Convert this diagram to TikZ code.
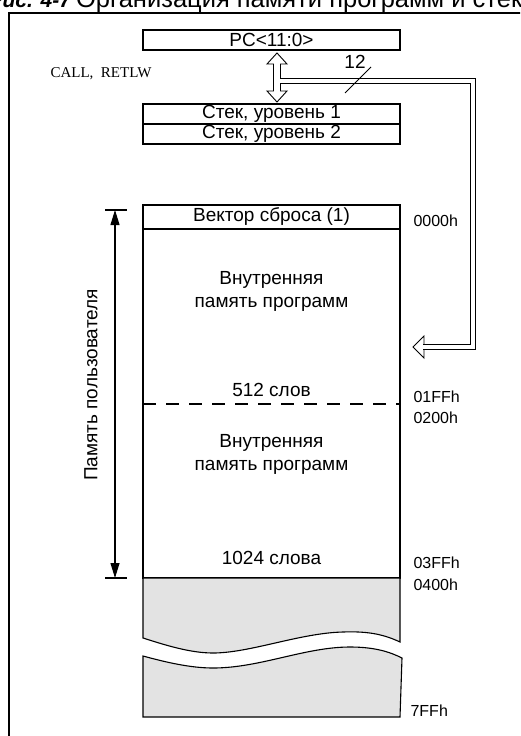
\documentclass[tikz,border=0pt]{standalone}
\usepackage{fontspec}
\setmainfont{Liberation Sans}
\newfontfamily\callfont{Liberation Serif}
\usetikzlibrary{arrows.meta}
\usetikzlibrary{calc}

\begin{document}
\begin{tikzpicture}[x=1pt, y=-1pt, line width=1.1pt,
  membox/.style={draw, minimum width=257pt, inner sep=0pt, font=\fontsize{19}{21}\selectfont},
  memtext/.style={align=center, font=\fontsize{19}{23}\selectfont},
  addr/.style={anchor=west, inner sep=0pt, font=\fontsize{16}{18}\selectfont},
  hollow/.style={draw, fill=white, line width=0.9pt},
  spantip/.tip={Triangle[length=15pt, width=9pt]}]
\useasboundingbox (0,0) rectangle (520,736);
\clip (0,0) rectangle (520,736);

% title and frame
\node[anchor=base west, inner sep=0pt] (title) at (-12,8)
  {{\fontsize{21}{24}\selectfont\bfseries\itshape Рис. 4-7}\hspace{5pt}{\fontsize{25.5}{28}\selectfont Организация памяти программ и стека}};
\draw[line width=1.3pt] (9,745) -- (9,13) -- (530,13);

% program counter and stack
\node[membox, minimum height=20pt] (pc) at (271.5,40) {PC<11:0>};
\node[membox, minimum height=20pt] (stack1) at (271.5,114) {Стек, уровень 1};
\node[membox, minimum height=20pt] (stack2) at (271.5,134) {Стек, уровень 2};
\node[anchor=base west, inner sep=0pt, font=\callfont\fontsize{15}{17}\selectfont] (call) at (50,77)
  {CALL,\ \ RETLW};

% double arrow pc <-> stack
\draw[hollow] (277,53) -- (287,64) -- (280.5,64) -- (280.5,91) -- (287,91) -- (277,102)
  -- (267,91) -- (273.5,91) -- (273.5,64) -- (267,64) -- cycle;
\coordinate (busstart) at (280,81);
\coordinate (bushead) at (413,347);

% 12-bit bus to program memory
\draw[hollow] (bushead) -- ++(11,-11) -- ++(0,22) -- cycle;
\draw[double, double distance=3.6pt, line width=0.9pt] (busstart) -- (473,81) -- (473,347) -- ($(bushead)+(10,0)$);
\draw[line width=0.9pt] (345,93) -- (371,67);
\node[font=\fontsize{19}{21}\selectfont] (width) at (355,62) {12};

% program memory
\node[membox, minimum height=24pt] (reset) at (271.5,217) {Вектор сброса (1)};
\node[membox, minimum height=349pt] (prog) at (271.5,403.5) {};
\draw[dash pattern=on 13pt off 10pt] (143,404) -- (400,404);
\node[memtext] (page0) at (271.5,291) {Внутренняя\\память программ};
\node[memtext] (words0) at (271.5,390) {512 слов};
\node[memtext] (page1) at (271.5,454) {Внутренняя\\память программ};
\node[memtext] (words1) at (271.5,558) {1024 слова};

% unimplemented area
\draw[fill=gray!22] (143,578) -- (400,578) -- (400,642)
  .. controls (385,635) and (370,631) .. (343,632)
  .. controls (300,633) and (250,653) .. (213,653)
  .. controls (190,653) and (165,645) .. (143,638) -- cycle;
\draw[fill=gray!22] (143,717) -- (143,656)
  .. controls (165,662) and (190,668) .. (213,668)
  .. controls (260,668) and (305,647) .. (350,647)
  .. controls (375,647) and (390,652) .. (402,658) -- (400,717) -- cycle;

% addresses
\node[addr] (a0000) at (413,221) {0000h};
\node[addr] (a01ff) at (413,397) {01FFh};
\node[addr] (a0200) at (413,418) {0200h};
\node[addr] (a03ff) at (413,563) {03FFh};
\node[addr] (a0400) at (413,585) {0400h};
\node[addr] (a7ff) at (410,711) {7FFh};

% user memory span
\coordinate (umtop) at (115,210);
\coordinate (umbot) at (115,578);
\draw (105,210) -- (127,210);
\draw (105,578) -- (127,578);
\draw[{spantip}-{spantip}] (umtop) -- (umbot);
\node[rotate=90, font=\fontsize{19}{21}\selectfont] (user) at (91,385) {Память пользователя};
\end{tikzpicture}
\end{document}
